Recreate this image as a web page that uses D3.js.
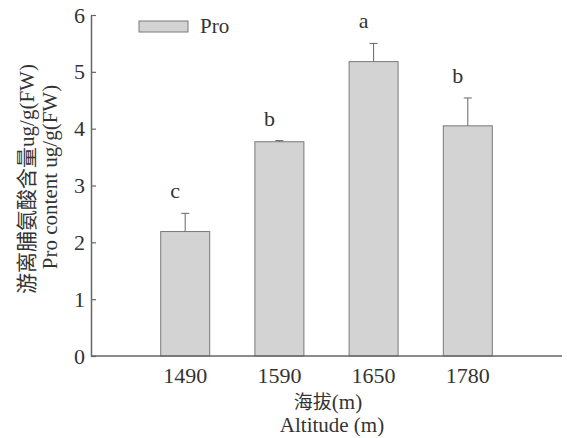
<!DOCTYPE html>
<meta charset="utf-8">
<html>
<head>
  <style>
    body { margin: 0; background: #fff; }
    svg { display: block; }
    text { font-family: "Liberation Serif", "Times New Roman", serif; fill: #333; }
    .cjk { font-family: "Noto Sans CJK SC", sans-serif; }
  </style>
</head>
<body>
<svg width="567" height="438"></svg>
<script src="https://d3js.org/d3.v7.min.js"></script>
<script>
  const altitudes = ["1490", "1590", "1650", "1780"];
  const proMeans = [2.19, 3.77, 5.18, 4.05];
  const proErrors = [0.32, 0.02, 0.32, 0.49];
  const sigLetters = ["c", "b", "a", "b"];
  const yTicks = [0, 1, 2, 3, 4, 5, 6];

  const svg = d3.select("svg");
  const plotLeft = 91, plotRight = 562, plotTop = 15, plotBottom = 356;
  const axisColor = "#666";
  const serif = "'Liberation Serif', 'Times New Roman', serif";

  // five equal slots along the axis, bars sit in the middle four
  const step = (plotRight - plotLeft) / 5;
  const x = d3.scaleBand()
    .domain(altitudes)
    .range([plotLeft + step / 2, plotLeft + 4.5 * step])
    .paddingInner(0.48)
    .paddingOuter(0.24);

  const y = d3.scaleLinear().domain([0, 6]).range([plotBottom, plotTop]);

  const data = altitudes.map((a, i) => ({
    alt: a, mean: proMeans[i], err: proErrors[i], sig: sigLetters[i]
  }));

  // bars
  svg.selectAll("rect.bar")
    .data(data)
    .enter().append("rect")
    .attr("class", "bar")
    .attr("x", d => x(d.alt))
    .attr("y", d => y(d.mean))
    .attr("width", x.bandwidth())
    .attr("height", d => y(0) - y(d.mean))
    .attr("fill", "#d3d3d3")
    .attr("stroke", "#7a7a7a")
    .attr("stroke-width", 1);

  // error bars
  const eb = svg.selectAll("g.err").data(data).enter().append("g").attr("class", "err")
    .attr("stroke", "#666").attr("stroke-width", 1);
  eb.append("line")
    .attr("x1", d => x(d.alt) + x.bandwidth() / 2)
    .attr("x2", d => x(d.alt) + x.bandwidth() / 2)
    .attr("y1", d => y(d.mean))
    .attr("y2", d => y(d.mean + d.err));
  eb.append("line")
    .attr("x1", d => x(d.alt) + x.bandwidth() / 2 - 4)
    .attr("x2", d => x(d.alt) + x.bandwidth() / 2 + 4)
    .attr("y1", d => y(d.mean + d.err))
    .attr("y2", d => y(d.mean + d.err));

  // significance letters
  svg.selectAll("text.sig")
    .data(data)
    .enter().append("text")
    .attr("class", "sig")
    .attr("x", d => x(d.alt) + x.bandwidth() / 2 - 10)
    .attr("y", d => y(d.mean + d.err) - 15)
    .attr("text-anchor", "middle")
    .style("font-size", "22px")
    .text(d => d.sig);

  // y axis
  const yAxis = svg.append("g")
    .attr("transform", `translate(${plotLeft},0)`)
    .call(d3.axisLeft(y).tickValues(yTicks).tickFormat(d3.format("d"))
      .tickSizeInner(-5).tickSizeOuter(0).tickPadding(7));
  yAxis.attr("font-family", serif);
  yAxis.select(".domain").attr("stroke", axisColor).attr("stroke-width", 1.5);
  yAxis.selectAll(".tick line").attr("stroke", axisColor).attr("stroke-width", 1.2);
  yAxis.selectAll(".tick text")
    .attr("x", -6)
    .style("font-size", "22px")
    .style("font-family", serif)
    .attr("fill", "#333");

  // x axis
  const xAxis = svg.append("g")
    .attr("transform", `translate(0,${plotBottom})`)
    .call(d3.axisBottom(x).tickSize(0).tickPadding(11));
  xAxis.attr("font-family", serif);
  xAxis.select(".domain").remove();
  xAxis.append("line")
    .attr("x1", plotLeft).attr("x2", plotRight)
    .attr("stroke", axisColor).attr("stroke-width", 1.5);
  xAxis.selectAll(".tick text")
    .style("font-size", "22px")
    .style("font-family", serif)
    .attr("fill", "#333");

  // axis titles
  svg.append("text")
    .attr("x", 328).attr("y", 409)
    .attr("text-anchor", "middle")
    .style("font-size", "21px")
    .html('<tspan class="cjk" style="font-size:19px">海拔</tspan>(m)');
  svg.append("text")
    .attr("x", 332).attr("y", 432)
    .attr("text-anchor", "middle")
    .style("font-size", "21px")
    .text("Altitude (m)");

  svg.append("text")
    .attr("transform", "translate(34,179) rotate(-90)")
    .attr("text-anchor", "middle")
    .style("font-size", "21px")
    .html('<tspan class="cjk" style="font-size:21px">游离脯氨酸含量</tspan>ug/g(FW)');
  svg.append("text")
    .attr("transform", "translate(57,177) rotate(-90)")
    .attr("text-anchor", "middle")
    .style("font-size", "21px")
    .text("Pro content ug/g(FW)");

  // legend
  const legend = svg.append("g");
  legend.append("rect")
    .attr("x", 139).attr("y", 21).attr("width", 49).attr("height", 11)
    .attr("fill", "#d3d3d3").attr("stroke", "#7a7a7a");
  legend.append("text")
    .attr("x", 200).attr("y", 33)
    .style("font-size", "21px")
    .text("Pro");
</script>
</body>
</html>
